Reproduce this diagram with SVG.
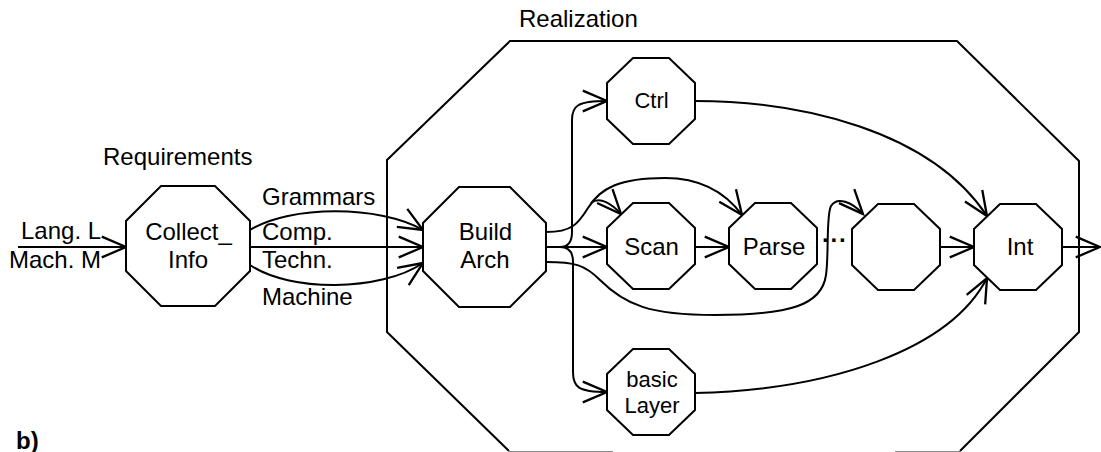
<svg xmlns="http://www.w3.org/2000/svg" width="1101" height="452" viewBox="0 0 1101 452">
<style>
.n{fill:#fff;stroke:#000;stroke-width:2}
.c{fill:none;stroke:#000;stroke-width:2}
.t{font-family:"Liberation Sans",Arial,sans-serif;font-size:24px;fill:#000}
.s{font-size:22px}
.m{text-anchor:middle}
</style>
<defs>
<marker id="a" markerUnits="userSpaceOnUse" markerWidth="30" markerHeight="30" viewBox="-24 -12 26 24" refX="0" refY="0" orient="auto" overflow="visible">
<path d="M-21,-9 L0,0 L-21,9" fill="none" stroke="#000" stroke-width="2"/>
</marker>
<polygon id="so" points="26,0 62,0 88,25 88,61 62,86 26,86 0,61 0,25"/>
</defs>
<rect width="1101" height="452" fill="#fff"/>
<g id="realization">
<polyline class="c" points="509,451 387,332 387,160 510,41 957,41 1079,161 1079,332 960,451"/>
<line x1="509" y1="451.5" x2="613" y2="451.5" stroke="#888" stroke-width="1"/>
<line x1="895" y1="451.5" x2="960" y2="451.5" stroke="#888" stroke-width="1"/>
<text class="t" x="519" y="27">Realization</text>
</g>
<g id="labels">
<text class="t" x="103" y="165">Requirements</text>
<text class="t" x="16" y="449" font-weight="bold">b)</text>
</g>
<g id="connectors">
<path class="c" d="M18,247 L126,247" marker-end="url(#a)"/>
<path class="c" d="M250,230 C290,205 380,205 423,230" marker-end="url(#a)"/>
<path class="c" d="M250,247 L423,247" marker-end="url(#a)"/>
<path class="c" d="M250,265 C290,292 380,292 423,263" marker-end="url(#a)"/>
<path class="c" d="M546,247 L607,247" marker-end="url(#a)"/>
<path class="c" d="M560,247 C569,247 572,241 572,232 L572,120 C572,106 577,101 607,101" marker-end="url(#a)"/>
<path class="c" d="M560,247 C569,247 573,253 573,262 L573,372 C573,387 578,392 607,392" marker-end="url(#a)"/>
<path class="c" d="M546,232 C572,232 578,224 588,208 C600,188 620,178 665,178 C705,178 728,196 742,215" marker-end="url(#a)"/>
<path class="c" d="M591,203 C600,196 612,204 621,214" marker-end="url(#a)"/>
<path class="c" d="M546,262 C575,262 585,265 600,280 C625,305 650,315 715,315 C790,315 822,305 826,275 C829,255 826,215 831,206 C837,196 852,202 863,214" marker-end="url(#a)"/>
<path class="c" d="M695,247 L729,247" marker-end="url(#a)"/>
<path class="c" d="M940,247 L974,247" marker-end="url(#a)"/>
<path class="c" d="M1062,247 L1100,247" marker-end="url(#a)"/>
<path class="c" d="M695,101 C800,101 930,130 987,216" marker-end="url(#a)"/>
<path class="c" d="M695,393 C830,390 950,350 987,278" marker-end="url(#a)"/>
<text class="t" x="21" y="239">Lang. L</text>
<text class="t" x="9" y="268">Mach. M</text>
<text class="t" x="262" y="205">Grammars</text>
<text class="t" x="262" y="240">Comp.</text>
<text class="t" x="262" y="268">Techn.</text>
<text class="t" x="262" y="305">Machine</text>
<text class="t" x="822 830.5 839" y="242" font-weight="bold" font-size="38">...</text>
</g>
<g id="collect_info">
<polygon class="n" points="161,186 215,186 250,221 250,271 215,306 161,306 126,271 126,221"/>
<text class="t m" x="188.5" y="240">Collect_</text>
<text class="t m" x="188" y="268">Info</text>
</g>
<g id="build_arch">
<polygon class="n" points="459,187 510,187 546,223 546,271 510,307 459,307 423,271 423,223"/>
<text class="t m" x="485.5" y="240">Build</text>
<text class="t m" x="485" y="268">Arch</text>
</g>
<g id="ctrl">
<use href="#so" class="n" x="607" y="58"/>
<text class="t s m" x="651.5" y="108">Ctrl</text>
</g>
<g id="scan">
<use href="#so" class="n" x="607" y="203"/>
<text class="t m" x="651.5" y="255">Scan</text>
</g>
<g id="parse">
<use href="#so" class="n" x="729" y="203"/>
<text class="t m" x="774" y="255">Parse</text>
</g>
<g id="empty">
<use href="#so" class="n" x="852" y="204"/>
</g>
<g id="int">
<use href="#so" class="n" x="974" y="204"/>
<text class="t m" x="1020" y="255">Int</text>
</g>
<g id="basic_layer">
<use href="#so" class="n" x="607" y="349"/>
<text class="t s m" x="652" y="387">basic</text>
<text class="t s m" x="652" y="413">Layer</text>
</g>
</svg>
